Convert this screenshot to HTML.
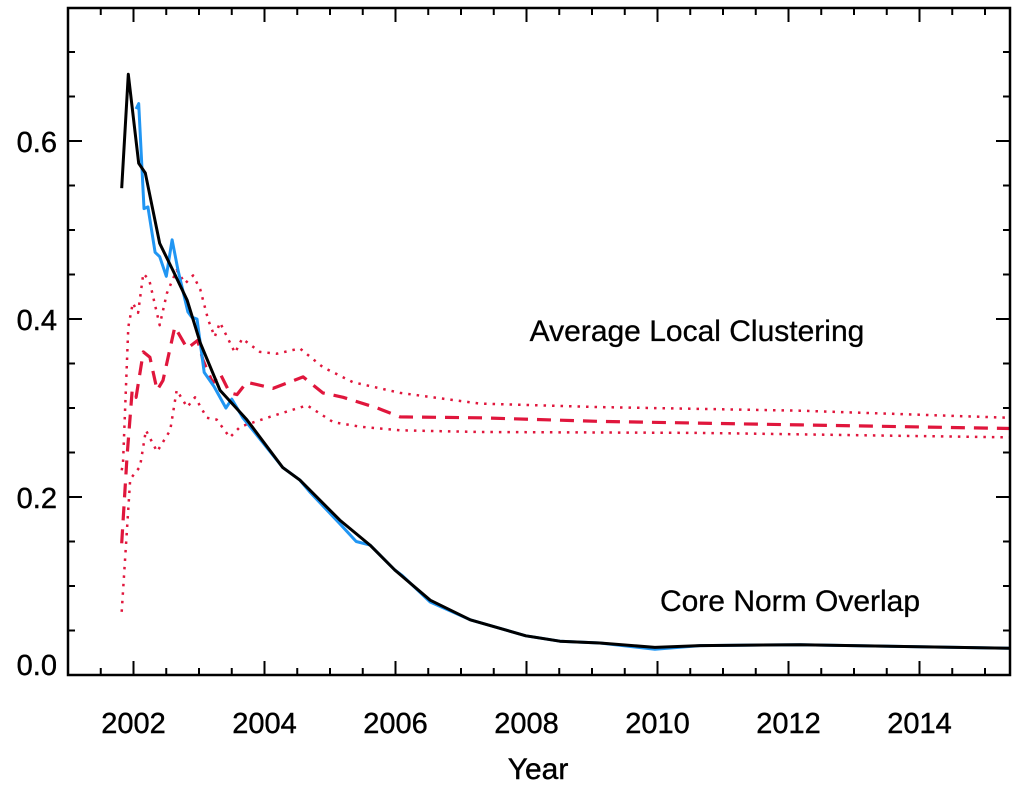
<!DOCTYPE html>
<html><head><meta charset="utf-8"><style>
html,body{margin:0;padding:0;background:#fff}
svg{display:block;font-family:"Liberation Sans",Arial,sans-serif}
</style></head><body>
<svg id="chart" width="1024" height="786" viewBox="0 0 1024 786"></svg>
<script>
const coreYears=[2001.82,2001.92,2002.08,2002.18,2002.40,2002.60,2002.82,2003.02,2003.32,2003.73,2004.28,2004.54,2005.15,2005.61,2005.99,2006.53,2007.14,2007.99,2008.51,2009.12,2009.96,2010.65,2012.18,2015.38];
const coreValues=[0.547,0.675,0.575,0.564,0.485,0.455,0.421,0.373,0.320,0.287,0.233,0.219,0.174,0.146,0.118,0.084,0.062,0.044,0.038,0.036,0.031,0.033,0.034,0.030];
const rawYears=[2002.04,2002.08,2002.16,2002.22,2002.33,2002.40,2002.50,2002.59,2002.68,2002.83,2002.89,2002.97,2003.08,2003.23,2003.41,2003.50,2003.67,2004.28,2004.54,2004.70,2005.15,2005.40,2005.61,2005.99,2006.10,2006.53,2007.14,2007.99,2008.51,2009.12,2009.96,2010.65,2012.18,2015.38];
const rawValues=[0.636,0.642,0.524,0.526,0.475,0.470,0.448,0.489,0.455,0.408,0.402,0.400,0.340,0.324,0.300,0.310,0.289,0.233,0.219,0.205,0.170,0.150,0.146,0.118,0.112,0.082,0.062,0.044,0.038,0.036,0.029,0.033,0.034,0.030];
const meanYears=[2001.82,2001.90,2001.98,2002.04,2002.15,2002.25,2002.36,2002.45,2002.63,2002.82,2002.98,2003.06,2003.21,2003.32,2003.47,2003.58,2003.73,2004.13,2004.59,2004.89,2005.20,2005.72,2006.07,2007.29,2009.12,2012.18,2015.38];
const meanValues=[0.148,0.245,0.320,0.312,0.363,0.357,0.320,0.331,0.391,0.367,0.376,0.354,0.328,0.339,0.317,0.315,0.329,0.322,0.335,0.317,0.312,0.300,0.290,0.289,0.285,0.281,0.277];
const upperYears=[2001.82,2001.84,2001.92,2001.99,2002.07,2002.15,2002.24,2002.40,2002.51,2002.66,2002.79,2002.91,2003.02,2003.14,2003.24,2003.32,2003.55,2003.66,2003.93,2004.19,2004.54,2004.89,2005.35,2006.07,2007.29,2009.12,2012.18,2015.38];
const upperValues=[0.230,0.238,0.391,0.418,0.407,0.451,0.444,0.393,0.429,0.455,0.440,0.449,0.433,0.399,0.380,0.396,0.362,0.378,0.363,0.361,0.367,0.346,0.329,0.317,0.305,0.301,0.297,0.289];
const lowerYears=[2001.82,2001.95,2002.10,2002.19,2002.36,2002.56,2002.66,2002.82,2002.94,2003.12,2003.27,2003.47,2003.63,2004.08,2004.65,2005.05,2005.46,2006.07,2007.29,2010.65,2015.38];
const lowerValues=[0.071,0.220,0.234,0.275,0.251,0.275,0.320,0.301,0.312,0.289,0.287,0.267,0.279,0.290,0.303,0.284,0.279,0.275,0.273,0.272,0.267];
const xTickLabels=["2002","2004","2006","2008","2010","2012","2014"];
const yTickLabels=["0.0","0.2","0.4","0.6"];

const L=68,R=1010,T=8,B=675,X0=2001,X1=2001+(R-L)/65.5,Y0=0,Y1=(B-T)/890;
const sx=v=>L+(v-X0)/(X1-X0)*(R-L);
const sy=v=>B-(v-Y0)/(Y1-Y0)*(B-T);
const svg=document.getElementById('chart');
const NS='http://www.w3.org/2000/svg';
function mk(tag,attrs,parent){const e=document.createElementNS(NS,tag);for(const k in attrs)e.setAttribute(k,attrs[k]);(parent||svg).appendChild(e);return e;}

for(let y=2001;y<=X1+0.001;y+=0.5){
  const x=sx(y);const major=(y%2===0);
  const len=major?14:7;
  const t1=mk('line',{x1:x,y1:B,x2:x,y2:B-len,stroke:'#000','stroke-width':2});
  
  
  const t2=mk('line',{x1:x,y1:T,x2:x,y2:T+len,stroke:'#000','stroke-width':2});
  
  
}
for(let i=0;i<=15;i++){
  const v=i*0.05;if(v>Y1)break;const y=sy(v);const major=i%4===0;const len=major?14:7;
  const t1=mk('line',{x1:L,y1:y,x2:L+len,y2:y,stroke:'#000','stroke-width':2});
  
  
  const t2=mk('line',{x1:R,y1:y,x2:R-len,y2:y,stroke:'#000','stroke-width':2});
  
  
}
xTickLabels.forEach(s=>{
  const t=mk('text',{x:sx(+s),y:733,'text-anchor':'middle','font-size':29,fill:'#000',stroke:'#000','stroke-width':0.4});
  t.textContent=s;
  
  
});
yTickLabels.forEach(s=>{
  const v=+s;let y=sy(v)+11;if(v===0)y=sy(v)-0;
  const t=mk('text',{x:57,y:y,'text-anchor':'end','font-size':29,fill:'#000',stroke:'#000','stroke-width':0.4});
  t.textContent=s;
  
  
});
const xt=mk('text',{x:538,y:779,'text-anchor':'middle','font-size':30,fill:'#000',stroke:'#000','stroke-width':0.4});
xt.textContent='Year';



function line(xs,ys,attrs,name){
  const d=xs.map((x,i)=>(i?'L':'M')+sx(x).toFixed(1)+','+sy(ys[i]).toFixed(1)).join('');
  const p=mk('path',Object.assign({d:d,fill:'none','stroke-linejoin':'round'},attrs));
  
  
}
line(upperYears,upperValues,{stroke:'#e0163c','stroke-width':2.5,'stroke-dasharray':'2.5 6'},'clustering-upper-line');
line(lowerYears,lowerValues,{stroke:'#e0163c','stroke-width':2.5,'stroke-dasharray':'2.5 6'},'clustering-lower-line');
line(meanYears,meanValues,{stroke:'#e0163c','stroke-width':3.2,'stroke-dasharray':'14 9'},'clustering-mean-line');
line(rawYears,rawValues,{stroke:'#2196f3','stroke-width':3},'core-overlap-raw-line');
line(coreYears,coreValues,{stroke:'#000','stroke-width':3},'core-overlap-smooth-line');

const fr=mk('rect',{x:L,y:T,width:R-L,height:B-T,fill:'none',stroke:'#000','stroke-width':2.5});



const a1=mk('text',{x:697,y:341,'text-anchor':'middle','font-size':30,fill:'#000',stroke:'#000','stroke-width':0.3});
a1.textContent='Average Local Clustering';


const a2=mk('text',{x:790,y:611,'text-anchor':'middle','font-size':30,fill:'#000',stroke:'#000','stroke-width':0.3});
a2.textContent='Core Norm Overlap';


</script>
</body></html>
